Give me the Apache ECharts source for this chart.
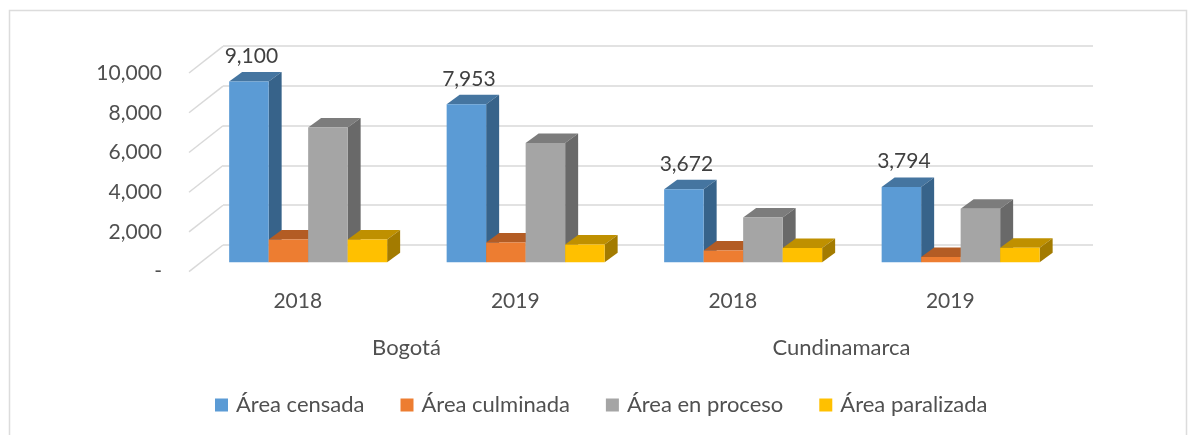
<!DOCTYPE html>
<html>
<head>
<meta charset="utf-8">
<title>Área censada</title>
<style>
  html, body { margin: 0; padding: 0; background: #fff; }
  #chart { width: 1188px; height: 435px; }
</style>
<script src="https://cdn.jsdelivr.net/npm/echarts@6/dist/echarts.min.js"></script>
</head>
<body>
<div id="chart"></div>
<script>
var years = ['2018', '2019', '2018', '2019']
var places = ['Bogotá', 'Cundinamarca']
var yTicks = [0, 2000, 4000, 6000, 8000, 10000]

var censada = [9100, 7953, 3672, 3794]
var culminada = [1150, 1000, 600, 270]
var enProceso = [6780, 6000, 2250, 2700]
var paralizada = [1150, 890, 720, 730]

var fontName = 'Lato'

function fmt(v) {
  return v === 0 ? '-' : v.toLocaleString('en-US')
}

// the fake 3d: bars sit part way between the front plane and the back wall
function barSeries(name, values, idx, colors, showLabel) {
  return {
    type: 'custom',
    name: name,
    xAxisIndex: 0,
    yAxisIndex: 0,
    clip: false,
    itemStyle: { color: colors[0] },
    data: values.map(function(v, i) { return [i, v] }),
    renderItem: function(params, api) {
      var top = api.coord([api.value(0), api.value(1)])
      var base = api.coord([api.value(0), 0])
      var w = 39.5
      var dx = 13
      var dy = 9.5
      var x0 = top[0] + 10.4 + (idx - 2) * w
      var x1 = x0 + w
      var y0 = top[1] - 9.4
      var y1 = base[1] - 9.4
      var kids = [
        { type: 'polygon', shape: { points: [[x0, y0], [x1, y0], [x1 + dx, y0 - dy], [x0 + dx, y0 - dy]] }, style: { fill: colors[1] }},
        { type: 'polygon', shape: { points: [[x1, y0], [x1 + dx, y0 - dy], [x1 + dx, y1 - dy], [x1, y1]] }, style: { fill: colors[2] }},
        { type: 'rect', shape: { x: x0, y: y0, width: w, height: y1 - y0 }, style: { fill: colors[0] }}
      ]
      if (showLabel) {
        kids.push({
          type: 'text',
          style: {
            x: x0 + w / 2 + 2.5,
            y: y0 - 25.5,
            text: fmt(api.value(1)),
            fill: '#404040',
            font: '21px ' + fontName,
            align: 'center',
            verticalAlign: 'middle'
          }
        })
      }
      return { type: 'group', children: kids }
    }
  }
}

var chart = echarts.init(document.getElementById('chart'), null, { renderer: 'canvas' })

chart.setOption({
  animation: false,
  backgroundColor: '#fff',
  textStyle: { fontFamily: fontName },
  graphic: [{
    type: 'rect',
    shape: { x: 9.5, y: 10.5, width: 1177, height: 500 },
    style: { fill: 'none', stroke: '#dcdcdc', lineWidth: 1.5 },
    silent: true
  }],
  legend: {
    left: 210,
    top: 389,
    itemWidth: 13,
    itemHeight: 13,
    itemGap: 36,
    icon: 'rect',
    selectedMode: false,
    textStyle: { color: '#505050', fontSize: 22, fontFamily: fontName, padding: [0, 0, 0, 3] },
    data: ['Área censada', 'Área culminada', 'Área en proceso', 'Área paralizada']
  },
  grid: [
    { left: 189, top: 73, width: 870, height: 198.7 },
    { left: 223, top: 46, width: 870, height: 199 }
  ],
  xAxis: [
    {
      type: 'category',
      gridIndex: 0,
      data: years,
      axisLine: { show: false },
      axisTick: { show: false },
      axisLabel: { color: '#505050', fontSize: 21, margin: 19, fontFamily: fontName }
    },
    {
      type: 'category',
      gridIndex: 0,
      position: 'bottom',
      offset: 46,
      data: places,
      axisLine: { show: false },
      axisTick: { show: false },
      axisLabel: { color: '#505050', fontSize: 22, margin: 19, fontFamily: fontName }
    },
    {
      type: 'category',
      gridIndex: 1,
      data: years,
      show: false
    }
  ],
  yAxis: [
    {
      type: 'value',
      gridIndex: 0,
      min: 0,
      max: 10000,
      interval: 2000,
      axisLine: { show: false },
      axisTick: { show: false },
      splitLine: { show: false },
      axisLabel: { color: '#505050', fontSize: 21, margin: 27, formatter: fmt, fontFamily: fontName }
    },
    {
      type: 'value',
      gridIndex: 1,
      min: 0,
      max: 10000,
      interval: 2000,
      axisLine: { show: false },
      axisTick: { show: false },
      axisLabel: { show: false },
      splitLine: { lineStyle: { color: '#d9d9d9', width: 1.5 }}
    }
  ],
  series: [
    {
      // left wall, one slanted line per tick
      type: 'custom',
      silent: true,
      xAxisIndex: 0,
      yAxisIndex: 0,
      clip: false,
      data: yTicks.map(function(v) { return [0, v] }),
      renderItem: function(params, api) {
        var p = api.coord([0, api.value(1)])
        var x = params.coordSys.x
        return {
          type: 'line',
          shape: { x1: x, y1: p[1], x2: x + 34, y2: p[1] - 26.7 },
          style: { stroke: '#d9d9d9', lineWidth: 1.5 }
        }
      }
    },
    barSeries('Área censada', censada, 0, ['#5b9bd5', '#4575a0', '#37638a'], true),
    barSeries('Área culminada', culminada, 1, ['#ed7d31', '#b35c24', '#8f4a1d'], false),
    barSeries('Área en proceso', enProceso, 2, ['#a5a5a5', '#7c7c7c', '#696969'], false),
    barSeries('Área paralizada', paralizada, 3, ['#ffc000', '#bf9000', '#a37b00'], false)
  ]
})
</script>
</body>
</html>
